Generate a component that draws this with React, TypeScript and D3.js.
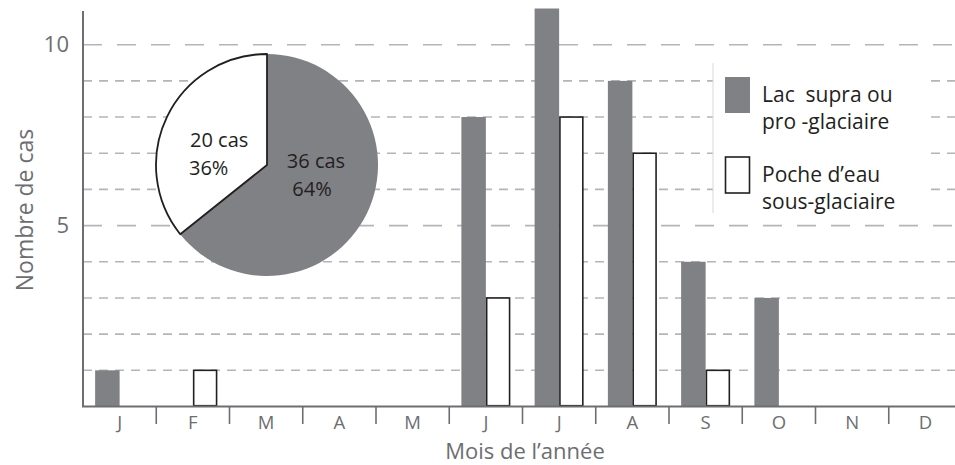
import React from "react";
import * as d3 from "d3";

// months of the year (French initials)
const months = ["J", "F", "M", "A", "M", "J", "J", "A", "S", "O", "N", "D"];
// Lac supra ou pro-glaciaire
const lacSupra = [1, 0, 0, 0, 0, 8, 11, 9, 4, 3, 0, 0];
// Poche d'eau sous-glaciaire
const pocheEau = [0, 1, 0, 0, 0, 3, 8, 7, 1, 0, 0, 0];
const seriesNames = ["Lac  supra ou|pro -glaciaire", "Poche d\u2019eau|sous-glaciaire"];
const pieCounts = [36, 20];
const yTickLabels = [5, 10];
const gridValues = [1, 2, 3, 4, 5, 6, 7, 8, 9, 10];

const W = 955;
const H = 465;
const GREY = "#808184";
const AXIS = "#6d6e71";
const INK = "#231f20";
const FONT = "'Open Sans', sans-serif";

export default function App() {
  const x = d3
    .scaleBand<number>()
    .domain(d3.range(months.length))
    .range([83, 962])
    .padding(0);
  const bw = x.bandwidth();
  const xSub = d3
    .scaleBand<string>()
    .domain(["lac", "poche"])
    .range([bw / 2 - 24.5, bw / 2 + 24.5]);
  const y = d3.scaleLinear().domain([0, 11]).range([406.5, 8.5]);

  const total = d3.sum(pieCounts);
  const pie = d3.pie<number>().sort(null)(pieCounts);
  const arc = d3.arc<d3.PieArcDatum<number>>().innerRadius(0).outerRadius(111);
  const pieCx = 267;
  const pieCy = 165;

  return (
    <svg
      width={W}
      height={H}
      style={{ position: "absolute", left: 0, top: 0, background: "#fff", fontFamily: FONT }}
    >
      {/* gridlines */}
      {gridValues.map((v) => (
        <line
          key={v}
          x1={x.range()[0]}
          x2={W}
          y1={y(v)}
          y2={y(v)}
          stroke="#b4b5b8"
          strokeWidth={1.6}
          strokeDasharray={v % 5 === 0 ? "19 15" : "9 7"}
        />
      ))}

      {/* legend box */}
      <rect x={713} y={63} width={215} height={150} fill="#fff" />
      <line x1={713} x2={713} y1={63} y2={213} stroke="#d8d8d8" strokeWidth={1} />
      {seriesNames.map((name, i) => {
        const top = i === 0 ? 77 : 157;
        const [l1, l2] = name.split("|");
        return (
          <g key={name}>
            <rect
              x={i === 0 ? 725 : 725.5}
              y={top}
              width={i === 0 ? 25 : 24}
              height={36}
              fill={i === 0 ? GREY : "#fff"}
              stroke={i === 0 ? "none" : INK}
              strokeWidth={1.6}
            />
            <text x={762} y={top + 25} fontSize={21} fill={INK} xmlSpace="preserve">
              {l1}
            </text>
            <text x={762} y={top + 52} fontSize={21} fill={INK}>
              {l2}
            </text>
          </g>
        );
      })}

      {/* bars */}
      {months.map((m, i) => (
        <g key={i} transform={`translate(${x(i)},0)`}>
          {lacSupra[i] > 0 && (
            <rect
              x={xSub("lac")}
              y={y(lacSupra[i])}
              width={xSub.bandwidth()}
              height={y(0) - y(lacSupra[i])}
              fill={GREY}
            />
          )}
          {pocheEau[i] > 0 && (
            <rect
              x={(xSub("poche") as number) + 0.8}
              y={y(pocheEau[i])}
              width={xSub.bandwidth() - 1.6}
              height={y(0) - y(pocheEau[i]) - 0.8}
              fill="#fff"
              stroke={INK}
              strokeWidth={1.6}
            />
          )}
        </g>
      ))}

      {/* pie */}
      <g transform={`translate(${pieCx},${pieCy})`}>
        {pie.map((d, i) => (
          <path
            key={i}
            d={arc(d) as string}
            fill={i === 0 ? GREY : "#fff"}
            stroke={i === 0 ? "none" : INK}
            strokeWidth={1.8}
            strokeLinejoin="round"
          />
        ))}
      </g>
      <text x={190} y={147} fontSize={20} fill={INK}>{`${pieCounts[1]} cas`}</text>
      <text x={189} y={175} fontSize={20} fill={INK}>{`${Math.round((pieCounts[1] / total) * 100)}%`}</text>
      <text x={316} y={168} fontSize={20} fill={INK} textAnchor="middle">{`${pieCounts[0]} cas`}</text>
      <text x={312} y={196} fontSize={20} fill={INK} textAnchor="middle">{`${Math.round((pieCounts[0] / total) * 100)}%`}</text>

      {/* axes */}
      <line x1={83} x2={83} y1={11} y2={y(0)} stroke={AXIS} strokeWidth={2} />
      <line x1={82} x2={W} y1={y(0)} y2={y(0)} stroke={AXIS} strokeWidth={2} />
      {months.slice(1).map((_, i) => (
        <line
          key={i}
          x1={x(i + 1)}
          x2={x(i + 1)}
          y1={y(0)}
          y2={424}
          stroke={AXIS}
          strokeWidth={1.6}
        />
      ))}
      {months.map((m, i) => (
        <text
          key={i}
          x={(x(i) as number) + bw / 2}
          y={429}
          fontSize={18.5}
          fill={AXIS}
          textAnchor="middle"
        >
          {m}
        </text>
      ))}
      {yTickLabels.map((v) => (
        <text
          key={v}
          x={69}
          y={y(v)}
          dy="0.35em"
          fontSize={22}
          fill={AXIS}
          textAnchor="end"
        >
          {v}
        </text>
      ))}
      <text
        transform="translate(33,210) rotate(-90)"
        fontSize={23}
        fill={AXIS}
        textAnchor="middle"
      >
        Nombre de cas
      </text>
      <text x={525} y={458.5} fontSize={22} fill={AXIS} textAnchor="middle">
        Mois de l&rsquo;année
      </text>
    </svg>
  );
}
